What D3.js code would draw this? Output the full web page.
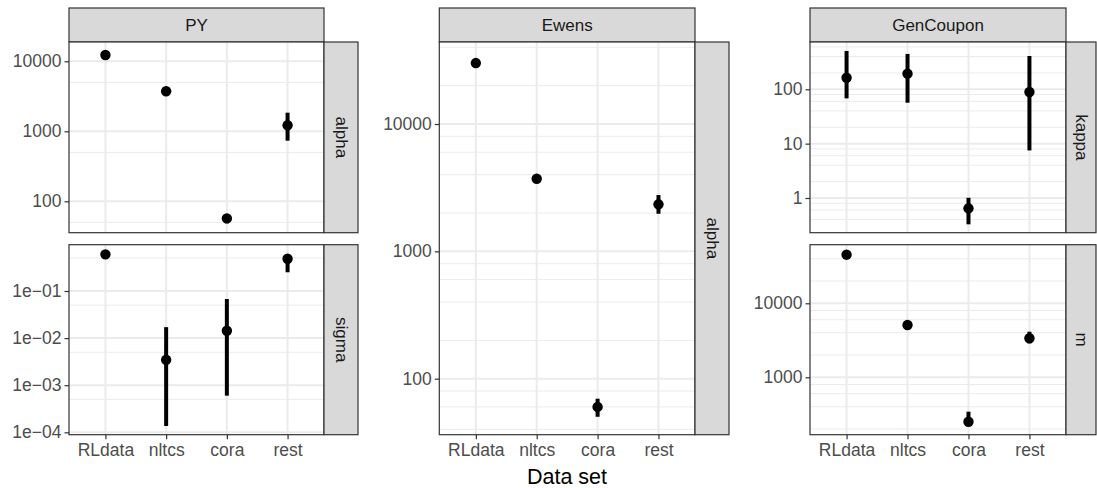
<!DOCTYPE html>
<html>
<head>
<meta charset="utf-8">
<script src="https://cdn.jsdelivr.net/npm/d3@7"></script>
<style>
  body { margin: 0; background: #fff; }
  svg text { font-family: "Liberation Sans", Arial, Helvetica, sans-serif; }
</style>
</head>
<body>
<div id="chart"></div>
<script>
/*
------------------------------
DATA: estimates with interval bounds
------------------------------
*/
const datasets = ["RLdata", "nltcs", "cora", "rest"];

// PY model
const pyAlphaEst = [12300, 3730, 57, 1220];
const pyAlphaLo = [12100, 3680, 48.5, 735];
const pyAlphaHi = [12500, 3780, 65, 1845];
const pySigmaEst = [0.6, 0.00346, 0.0143, 0.485];
const pySigmaLo = [0.59, 0.000136, 0.0006, 0.25];
const pySigmaHi = [0.61, 0.0171, 0.0676, 0.56];

// Ewens model
const ewAlphaEst = [30100, 3715, 60, 2340];
const ewAlphaLo = [29800, 3680, 50.2, 1972];
const ewAlphaHi = [30400, 3750, 69.6, 2767];

// GenCoupon model
const gcKappaEst = [163, 194, 0.646, 89];
const gcKappaLo = [68, 56.6, 0.328, 7.5];
const gcKappaHi = [507, 447, 1.01, 410];
const gcMEst = [45400, 5090, 251, 3366];
const gcMLo = [45000, 5040, 245, 2885];
const gcMHi = [45800, 5140, 343, 4130];

// axis breaks per panel
const ticksPyAlpha = [100, 1000, 10000];
const minorPyAlpha = [50, 500, 5000];
const ticksPySigma = [1e-4, 1e-3, 1e-2, 1e-1];
const labelsPySigma = ["1e\u221204", "1e\u221203", "1e\u221202", "1e\u221201"];
const minorPySigma = [5e-4, 5e-3, 5e-2, 5e-1];
const ticksEwAlpha = [100, 1000, 10000];
const minorEwAlpha = [40, 60, 80, 200, 400, 600, 800, 2000, 4000, 6000, 8000, 20000, 40000];
const ticksGcKappa = [1, 10, 100];
const minorGcKappa = [0.4, 0.6, 0.8, 2, 4, 6, 8, 20, 40, 60, 80, 200, 400, 600];
const ticksGcM = [1000, 10000];
const minorGcM = [200, 400, 600, 800, 2000, 4000, 6000, 8000, 20000, 40000];

/*
------------------------------
METHOD: layout of the three sub plots
------------------------------
*/
const width = 1097;
const height = 488;
const stripTop = 8, stripBottom = 42, stripW = 34;

const plots = [
  { title: "PY", x0: 69, x1: 324, panels: [
    { param: "alpha", y0: 42, y1: 232.7, domain: [35.6, 18880], est: pyAlphaEst, lo: pyAlphaLo, hi: pyAlphaHi, ticks: ticksPyAlpha, labels: null, minor: minorPyAlpha, xaxis: false },
    { param: "sigma", y0: 244.7, y1: 434.7, domain: [8.9e-5, 0.962], est: pySigmaEst, lo: pySigmaLo, hi: pySigmaHi, ticks: ticksPySigma, labels: labelsPySigma, minor: minorPySigma, xaxis: true }
  ]},
  { title: "Ewens", x0: 439.3, x1: 695, panels: [
    { param: "alpha", y0: 42, y1: 434.7, domain: [36.3, 44060], est: ewAlphaEst, lo: ewAlphaLo, hi: ewAlphaHi, ticks: ticksEwAlpha, labels: null, minor: minorEwAlpha, xaxis: true }
  ]},
  { title: "GenCoupon", x0: 810, x1: 1066, stripW: 30, panels: [
    { param: "kappa", y0: 42, y1: 232.7, domain: [0.23, 741], est: gcKappaEst, lo: gcKappaLo, hi: gcKappaHi, ticks: ticksGcKappa, labels: null, minor: minorGcKappa, xaxis: false },
    { param: "m", y0: 244.7, y1: 434.7, domain: [167.5, 61940], est: gcMEst, lo: gcMLo, hi: gcMHi, ticks: ticksGcM, labels: null, minor: minorGcM, xaxis: true }
  ]}
];

const svg = d3.select("#chart")
  .append("svg")
  .attr("width", width)
  .attr("height", height);

const border = "#333333";

plots.forEach(function (p) {
  const sw = p.stripW || stripW;
  const x = d3.scalePoint().domain(datasets).range([p.x0, p.x1]).padding(0.6);

  // top strip
  svg.append("rect")
    .attr("x", p.x0).attr("y", stripTop)
    .attr("width", p.x1 - p.x0).attr("height", stripBottom - stripTop)
    .attr("fill", "#D9D9D9").attr("stroke", border).attr("stroke-width", 1.2);
  svg.append("text")
    .attr("x", (p.x0 + p.x1) / 2).attr("y", (stripTop + stripBottom) / 2)
    .attr("text-anchor", "middle").attr("dominant-baseline", "central")
    .attr("fill", "#1A1A1A").attr("font-size", 17)
    .text(p.title);

  p.panels.forEach(function (pn) {
    const y = d3.scaleLog().domain(pn.domain).range([pn.y1, pn.y0]);
    const g = svg.append("g");

    g.append("rect")
      .attr("x", p.x0).attr("y", pn.y0)
      .attr("width", p.x1 - p.x0).attr("height", pn.y1 - pn.y0)
      .attr("fill", "#fff");

    // minor grid
    g.selectAll(".minor")
      .data(pn.minor.filter(v => y(v) > pn.y0 && y(v) < pn.y1))
      .enter().append("line")
      .attr("x1", p.x0).attr("x2", p.x1)
      .attr("y1", d => y(d)).attr("y2", d => y(d))
      .attr("stroke", "#EBEBEB").attr("stroke-width", 1);

    // major grid
    g.selectAll(".major")
      .data(pn.ticks)
      .enter().append("line")
      .attr("x1", p.x0).attr("x2", p.x1)
      .attr("y1", d => y(d)).attr("y2", d => y(d))
      .attr("stroke", "#EBEBEB").attr("stroke-width", 2);
    g.selectAll(".vgrid")
      .data(datasets)
      .enter().append("line")
      .attr("x1", d => x(d)).attr("x2", d => x(d))
      .attr("y1", pn.y0).attr("y2", pn.y1)
      .attr("stroke", "#EBEBEB").attr("stroke-width", 2);

    // error bars + points
    g.selectAll(".bar")
      .data(datasets)
      .enter().append("line")
      .attr("x1", d => x(d)).attr("x2", d => x(d))
      .attr("y1", (d, i) => y(pn.lo[i])).attr("y2", (d, i) => y(pn.hi[i]))
      .attr("stroke", "#000").attr("stroke-width", 4);
    g.selectAll(".pt")
      .data(datasets)
      .enter().append("circle")
      .attr("cx", d => x(d))
      .attr("cy", (d, i) => y(pn.est[i]))
      .attr("r", 5.2)
      .attr("fill", "#000");

    // panel border
    g.append("rect")
      .attr("x", p.x0).attr("y", pn.y0)
      .attr("width", p.x1 - p.x0).attr("height", pn.y1 - pn.y0)
      .attr("fill", "none").attr("stroke", border).attr("stroke-width", 1.2);

    // right strip
    g.append("rect")
      .attr("x", p.x1).attr("y", pn.y0)
      .attr("width", sw).attr("height", pn.y1 - pn.y0)
      .attr("fill", "#D9D9D9").attr("stroke", border).attr("stroke-width", 1.2);
    g.append("text")
      .attr("transform", "translate(" + (p.x1 + sw / 2) + "," + (pn.y0 + pn.y1) / 2 + ") rotate(90)")
      .attr("text-anchor", "middle").attr("dominant-baseline", "central")
      .attr("fill", "#1A1A1A").attr("font-size", 17)
      .text(pn.param);

    // y axis
    const yAxis = d3.axisLeft(y)
      .tickValues(pn.ticks)
      .tickSize(4.5)
      .tickPadding(3)
      .tickFormat((d, i) => pn.labels ? pn.labels[i] : d3.format("d")(d));
    const ya = g.append("g")
      .attr("transform", "translate(" + p.x0 + ",0)")
      .call(yAxis);
    ya.select(".domain").remove();
    ya.selectAll(".tick line").attr("stroke", border).attr("stroke-width", 1.2);
    ya.selectAll(".tick text")
      .attr("fill", "#4D4D4D").attr("font-size", 17.5)
      .attr("font-family", "'Liberation Sans', Arial, sans-serif");

    // x axis
    if (pn.xaxis) {
      const xa = g.append("g")
        .attr("transform", "translate(0," + pn.y1 + ")")
        .call(d3.axisBottom(x).tickSize(4.5).tickPadding(4));
      xa.select(".domain").remove();
      xa.selectAll(".tick line").attr("stroke", border).attr("stroke-width", 1.2);
      xa.selectAll(".tick text")
        .attr("fill", "#4D4D4D").attr("font-size", 17.5)
        .attr("font-family", "'Liberation Sans', Arial, sans-serif");
    }
  });
});

// axis title
svg.append("text")
  .attr("x", 567).attr("y", 477)
  .attr("text-anchor", "middle").attr("dominant-baseline", "central")
  .attr("fill", "#000").attr("font-size", 21.5)
  .text("Data set");
</script>
</body>
</html>
